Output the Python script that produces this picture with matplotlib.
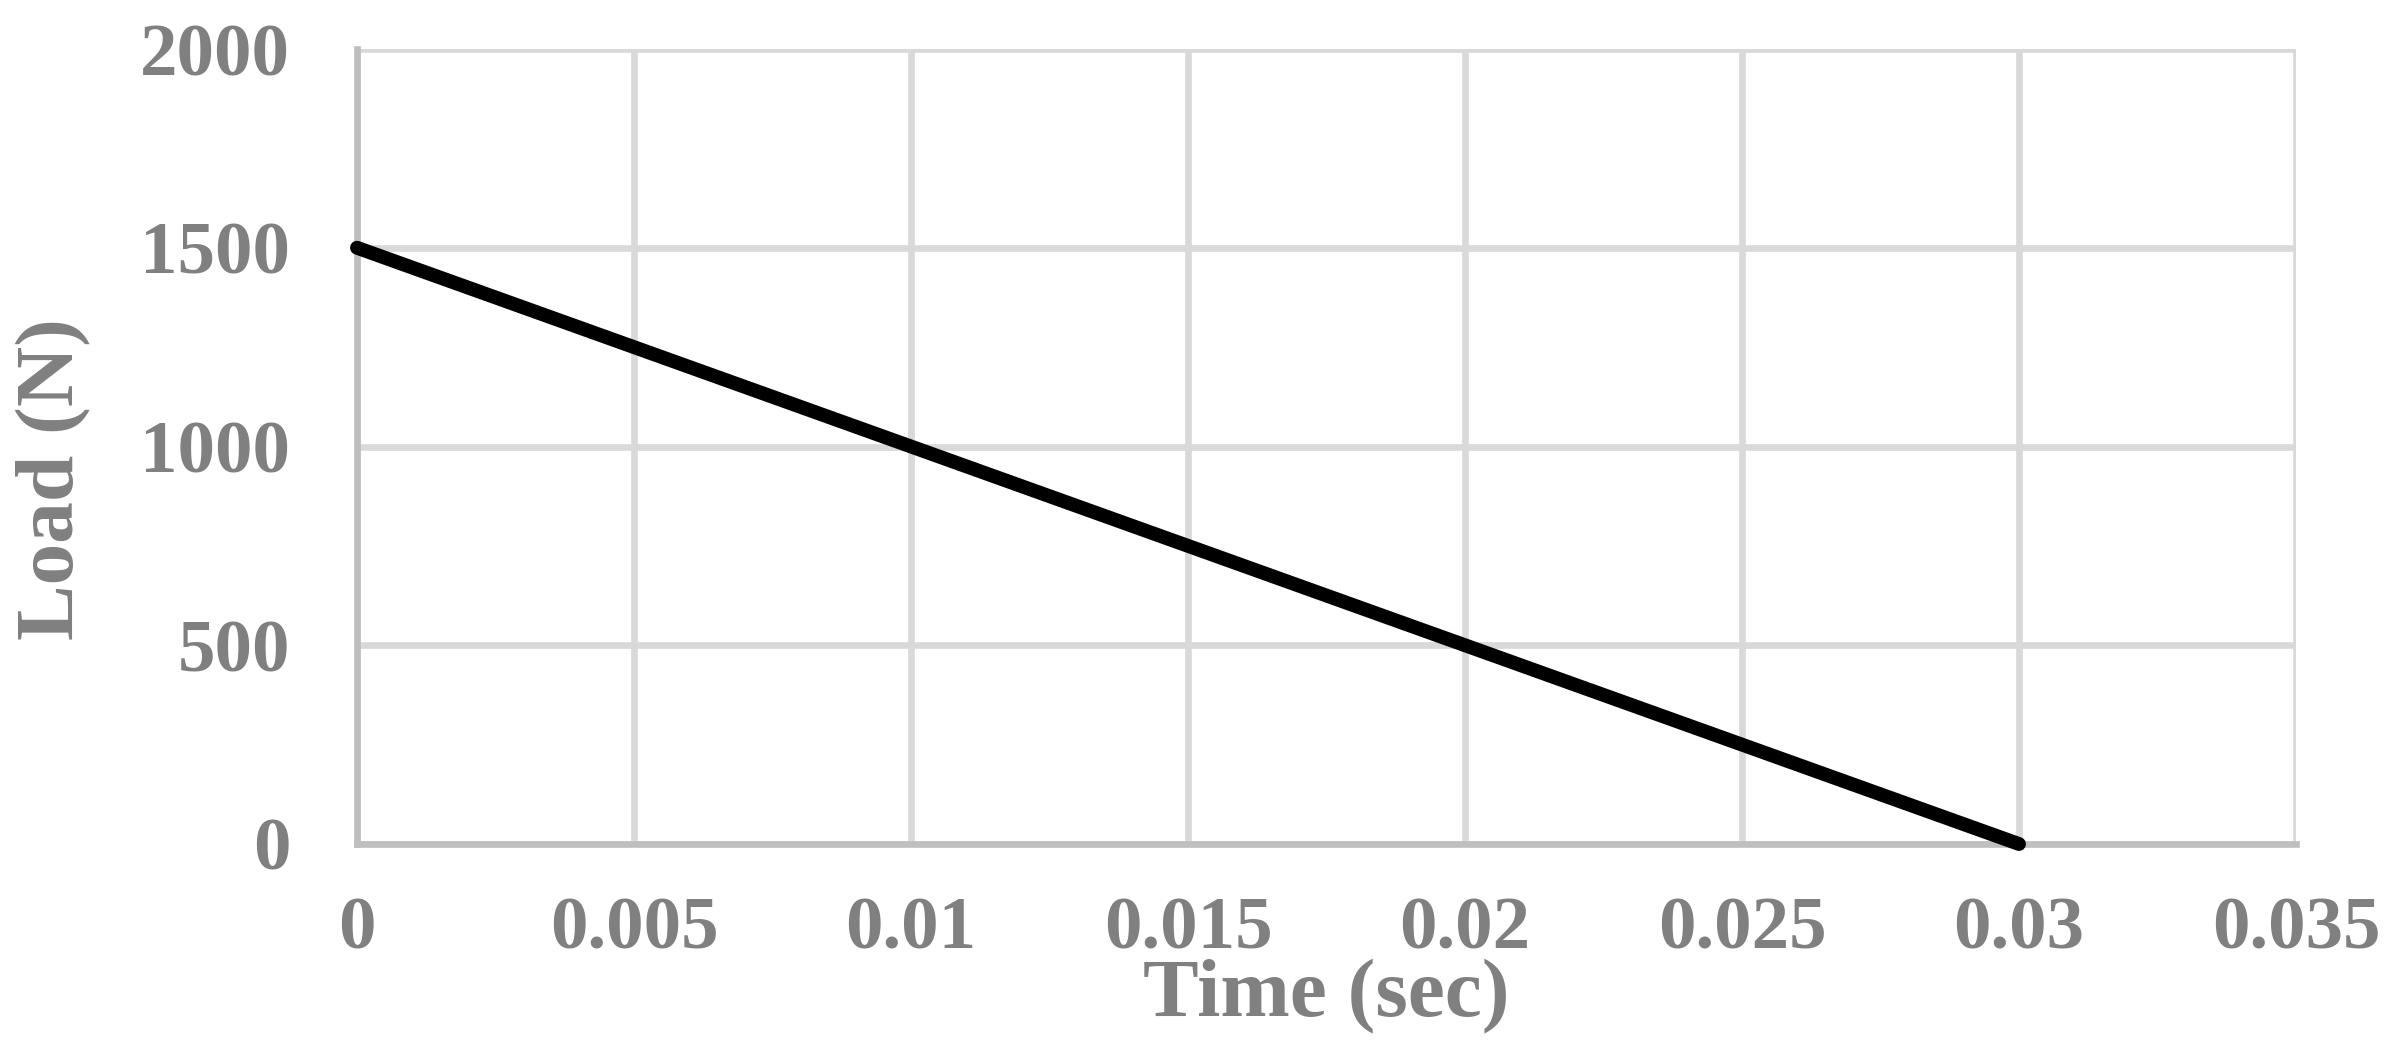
import numpy as np
import matplotlib.pyplot as plt

# data
time_s = [0.0, 0.03]
load_n = [1500, 0]
x_ticks = [0, 0.005, 0.01, 0.015, 0.02, 0.025, 0.03, 0.035]
x_labels = ["0", "0.005", "0.01", "0.015", "0.02", "0.025", "0.03", "0.035"]
y_ticks = [0, 500, 1000, 1500, 2000]

grey = "#808080"
fig = plt.figure(figsize=(24.05, 10.49), dpi=100)
ax = fig.add_axes([357/2405, 1 - 844/1049, (2296-357)/2405, (844-49)/1049])

ax.plot(time_s, load_n, color="black", lw=10, solid_capstyle="round", zorder=5, clip_on=False)

ax.set_xlim(0, 0.035)
ax.set_ylim(0, 2000)
ax.set_xticks(x_ticks)
ax.set_xticklabels(x_labels)
ax.set_yticks(y_ticks)
ax.grid(True, color="#d9d9d9", lw=4.8)
ax.set_axisbelow(True)

for s in ["top", "right"]:
    ax.spines[s].set_visible(False)
for s in ["left", "bottom"]:
    ax.spines[s].set_color("#bfbfbf")
    ax.spines[s].set_linewidth(4.8)

font = dict(family="Liberation Serif", weight="bold", color=grey)
ax.tick_params(length=0, labelsize=54, labelcolor=grey)
ax.tick_params(axis="x", pad=38)
ax.tick_params(axis="y", pad=48)
for lab in ax.get_xticklabels() + ax.get_yticklabels():
    lab.set_fontfamily("Liberation Serif")
    lab.set_fontweight("bold")

ax.set_xlabel("Time (sec)", fontsize=60, **font)
ax.set_ylabel("Load (N)", fontsize=60, **font)
ax.xaxis.set_label_coords(0.5, -0.145)
ax.yaxis.set_label_coords(-0.137, 0.459)

fig.savefig("out.png", dpi=100)
